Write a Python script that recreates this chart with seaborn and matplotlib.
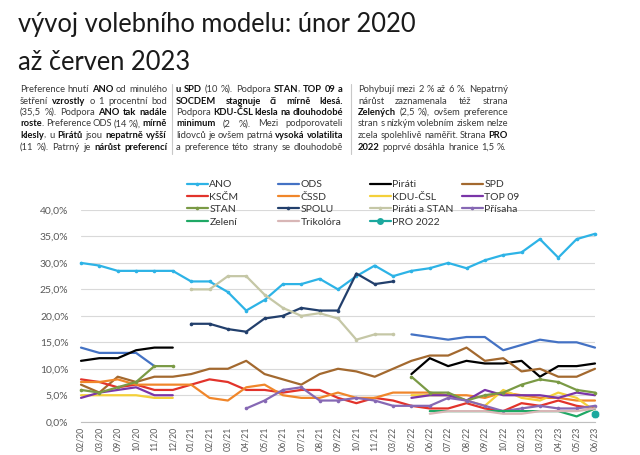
"""
Volební model únor 2020 - červen 2023: nadpis, komentář a spojnicový graf
"""
import numpy as np
import pandas as pd
import matplotlib
matplotlib.use("Agg")
import matplotlib.pyplot as plt
import seaborn as sns
from matplotlib import font_manager
from matplotlib.lines import Line2D

# ---- data -----------------------------------------------------------------
months = ["02/20", "03/20", "09/20", "10/20", "11/20", "12/20", "01/21", "02/21",
          "03/21", "04/21", "05/21", "06/21", "07/21", "08/21", "09/22", "10/21",
          "11/21", "03/22", "05/22", "06/22", "07/22", "08/22", "09/22", "10/22",
          "02/23", "03/23", "04/23", "05/23", "06/23"]

N = None
ano = [30.0, 29.5, 28.5, 28.5, 28.5, 28.5, 26.5, 26.5, 24.5, 21.0, 23.0, 26.0, 26.0, 27.0,
       25.0, 27.5, 29.5, 27.5, 28.5, 29.0, 30.0, 29.0, 30.5, 31.5, 32.0, 34.5, 31.0, 34.5, 35.5]
ods = [14.0, 13.0, 13.0, 13.0, 10.5, N, N, N, N, N, N, N, N, N, N, N, N, N,
       16.5, 16.0, 15.5, 16.0, 16.0, 13.5, 14.5, 15.5, 15.0, 15.0, 14.0]
pirati = [11.5, 12.0, 12.0, 13.5, 14.0, 14.0, N, N, N, N, N, N, N, N, N, N, N, N,
          9.0, 12.0, 10.5, 11.5, 11.0, 11.0, 11.5, 8.5, 10.5, 10.5, 11.0]
spd = [7.0, 5.5, 8.5, 7.5, 8.5, 8.5, 9.0, 10.0, 10.0, 11.5, 9.0, 8.0, 7.0, 9.0, 10.0,
       9.5, 8.5, 10.0, 11.5, 12.5, 12.5, 14.0, 11.5, 12.0, 9.5, 10.0, 8.5, 8.5, 10.0]
kscm = [8.0, 7.5, 6.5, 7.0, 6.0, 6.0, 7.0, 8.0, 7.5, 6.0, 6.0, 5.5, 6.0, 6.0, 4.5,
        3.5, 4.5, 4.0, 3.0, 2.5, 2.5, 3.5, 2.5, 2.0, 3.5, 3.0, 4.0, 3.0, 2.5]
cssd = [7.5, 7.5, 8.0, 7.0, 7.0, 7.0, 7.0, 4.5, 4.0, 6.5, 7.0, 5.0, 4.5, 4.5, 5.5,
        4.5, 4.5, 5.5, 5.5, 5.5, 5.0, 5.0, 4.5, 5.5, 5.0, 4.5, 4.5, 4.0, 4.0]
kdu = [5.0, 5.0, 5.0, 5.0, 4.5, 4.5, N, N, N, N, N, N, N, N, N, N, N, N,
       5.0, 5.0, 5.0, 4.0, 3.0, 6.0, 4.5, 4.0, 5.5, 4.5, 2.0]
top09 = [4.5, 5.5, 6.0, 6.5, 5.0, 5.0, N, N, N, N, N, N, N, N, N, N, N, N,
         4.5, 5.0, 5.0, 4.0, 6.0, 5.0, 5.0, 5.0, 4.5, 5.5, 5.0]
stan = [6.0, 5.5, 6.5, 7.5, 10.5, 10.5, N, N, N, N, N, N, N, N, N, N, N, N,
        8.5, 5.5, 5.5, 4.0, 5.0, 5.5, 7.0, 8.0, 7.5, 6.0, 5.5]
spolu = [N, N, N, N, N, N, 18.5, 18.5, 17.5, 17.0, 19.5, 20.0, 21.5, 21.0, 21.0,
         28.0, 26.0, 26.5, N, N, N, N, N, N, N, N, N, N, N]
pir_stan = [N, N, N, N, N, N, 25.0, 25.0, 27.5, 27.5, 24.0, 21.5, 20.0, 20.5, 19.5,
            15.5, 16.5, 16.5, N, N, N, N, N, N, N, N, N, N, N]
prisaha = [N, N, N, N, N, N, N, N, N, 2.5, 4.0, 6.0, 6.5, 4.0, 4.0, 4.5, 4.0, 3.0,
           3.0, 3.0, 4.5, 4.0, 3.0, 2.0, 2.5, 3.0, 2.5, 2.5, 3.0]
zeleni = [N] * 19 + [2.0, 2.0, 2.0, 2.0, 2.0, 2.0, 2.0, 2.0, 1.0, 2.5]
trikolora = [N] * 19 + [1.5, 2.0, 2.0, 2.0, 1.5, 1.5, 2.0, 2.0, 2.0, 2.5]
pro2022 = [N] * 28 + [1.5]

series = {
    "ANO": ano, "ODS": ods, "Piráti": pirati, "SPD": spd,
    "KSČM": kscm, "ČSSD": cssd, "KDU-ČSL": kdu, "TOP 09": top09,
    "STAN": stan, "SPOLU": spolu, "Piráti a STAN": pir_stan, "Přísaha": prisaha,
    "Zelení": zeleni, "Trikolóra": trikolora, "PRO 2022": pro2022,
}

# ---- styles -----------------------------------------------------------------
colors = {
    "ANO": "#2DB3E6", "ODS": "#4472C4", "Piráti": "#000000", "SPD": "#A3692F",
    "KSČM": "#E2332B", "ČSSD": "#F0862A", "KDU-ČSL": "#F4D03A", "TOP 09": "#7A35A8",
    "STAN": "#7A9A45", "SPOLU": "#223F6C", "Piráti a STAN": "#C5C7A6", "Přísaha": "#8668B4",
    "Zelení": "#1FA865", "Trikolóra": "#D8B6B6", "PRO 2022": "#1BA89E",
}
with_marker = {"ANO", "STAN", "SPOLU", "Piráti a STAN", "Přísaha"}

title_lines = ["vývoj volebního modelu: únor 2020", "až červen 2023"]

col1 = ["Preference hnutí **ANO** od minulého",
        "šetření **vzrostly** o 1 procentní bod",
        "(35,5 %). Podpora **ANO tak nadále**",
        "**roste**. Preference ODS (14 %), **mírně**",
        "**klesly**, u **Pirátů** jsou **nepatrně vyšší**",
        "(11 %). Patrný je **nárůst preferencí**"]
col2 = ["**u SPD** (10 %). Podpora **STAN**, **TOP 09 a**",
        "**SOCDEM stagnuje či mírně klesá.**",
        "Podpora **KDU-ČSL klesla na dlouhodobé**",
        "**minimum** (2 %). Mezi podporovateli",
        "lidovců je ovšem patrná **vysoká volatilita**",
        "a preference této strany se dlouhodobě"]
col3 = ["Pohybují mezi 2 % až 6 %. Nepatrný",
        "nárůst zaznamenala též strana",
        "**Zelených** (2,5 %), ovšem preference",
        "stran s nízkým volebním ziskem nelze",
        "zcela spolehlivě naměřit. Strana **PRO**",
        "**2022** poprvé dosáhla hranice 1,5 %."]


def pick_font(names):
    for name in names:
        try:
            font_manager.findfont(font_manager.FontProperties(family=name),
                                  fallback_to_default=False)
            return name
        except ValueError:
            continue
    return "DejaVu Sans"


sns.set_style("white")
FONT = pick_font(["Liberation Sans Narrow", "Lato", "Open Sans"])
plt.rcParams["font.family"] = [FONT, "DejaVu Sans"]

W, H = 640, 455
fig = plt.figure(figsize=(W / 100, H / 100), dpi=100)
fig.patch.set_facecolor("white")
renderer = fig.canvas.get_renderer()


def fx(px):
    return px / W


def fy(py):
    return 1 - py / H


def text_width(s, fs, bold=False):
    t = fig.text(0, 0, s, fontsize=fs, fontweight="bold" if bold else "normal")
    w = t.get_window_extent(renderer).width
    t.remove()
    return w


# ---- title (sized to the reference width) ----------------------------------
title_fs = 24 * 399 / text_width(title_lines[0], 24)
fig.text(fx(18), fy(32), title_lines[0], fontsize=title_fs, color="#1a1a1a", va="baseline")
fig.text(fx(18), fy(70), title_lines[1], fontsize=title_fs, color="#1a1a1a", va="baseline")


# ---- justified commentary ----------------------------------------------------
def parse_words(line):
    words, cur = [], []
    for k, part in enumerate(line.split("**")):
        bold = k % 2 == 1
        for j, chunk in enumerate(part.split(" ")):
            if j > 0 and cur:
                words.append(cur)
                cur = []
            if chunk:
                cur.append((chunk, bold))
    if cur:
        words.append(cur)
    return words


def natural_width(line, fs, space=0.2):
    words = parse_words(line)
    total = sum(text_width(p, fs, b) for w in words for p, b in w)
    return total + space * fs * 100 / 72 * (len(words) - 1)


columns = [(col1, 20, 167, True), (col2, 176, 343, True), (col3, 358, 508, False)]
fs0 = 7.5
ratio = max(natural_width(l, fs0) / (x1 - x0) for c, x0, x1, _ in columns for l in c)
body_fs = min(fs0 / ratio, 8.0)

for lines, x0, x1, justify_last in columns:
    for i, line in enumerate(lines):
        words = parse_words(line)
        pieces = [[(p, b, text_width(p, body_fs, b)) for p, b in w] for w in words]
        wsum = sum(pw for w in pieces for _, _, pw in w)
        last = i == len(lines) - 1
        if last and not justify_last:
            gap = 0.27 * body_fs * 100 / 72
        else:
            gap = (x1 - x0 - wsum) / max(len(words) - 1, 1)
        x = x0
        y = 92 + i * 11.5
        for w in pieces:
            for p, b, pw in w:
                fig.text(fx(x), fy(y), p, fontsize=body_fs, va="baseline",
                         fontweight="bold" if b else "normal",
                         color="#111111" if b else "#3a3a3a")
                x += pw
            x += gap

for xs in (172, 351):
    fig.add_artist(Line2D([fx(xs), fx(xs)], [fy(84), fy(154)], color="#C8C8C8", lw=0.8))

# ---- chart -------------------------------------------------------------------
ax = fig.add_axes([fx(81), fy(421.7), fx(595) - fx(81), fy(210) - fy(421.7)])
xs_all = np.arange(len(months))

for name, vals in series.items():
    s = pd.Series(vals, index=xs_all, dtype=float)
    valid = s.notna()
    runs = (valid != valid.shift()).cumsum()
    for _, seg in s[valid].groupby(runs[valid]):
        if name == "PRO 2022":
            sns.scatterplot(x=seg.index, y=seg.values, ax=ax, color=colors[name],
                            s=38, edgecolor="white", linewidth=0.4, zorder=5,
                            clip_on=False, legend=False)
            continue
        sns.lineplot(x=seg.index, y=seg.values, ax=ax, color=colors[name], lw=1.6,
                     marker="o" if name in with_marker else None, markersize=2.6,
                     markeredgewidth=0, sort=False, legend=False, clip_on=False)

ax.set_xlim(0, len(months) - 1)
ax.set_ylim(0, 40)
ax.set_yticks(np.arange(0, 40.1, 5))
ax.set_yticklabels([f"{v:.1f}".replace(".", ",") + "%" for v in np.arange(0, 40.1, 5)])
ax.set_xticks(xs_all)
ax.set_xticklabels(months, rotation=90)
ax.set_xlabel("")
ax.set_ylabel("")
ax.grid(axis="y", color="#D9D9D9", lw=0.8)
ax.set_axisbelow(True)
for sp in ("top", "right", "left"):
    ax.spines[sp].set_visible(False)
ax.spines["bottom"].set_color("#BFBFBF")
ax.spines["bottom"].set_linewidth(0.8)
ax.tick_params(axis="y", length=0, pad=9, labelsize=7.5, labelcolor="#595959")
ax.tick_params(axis="x", length=4, width=0.8, color="#BFBFBF", pad=1.5,
               direction="inout", labelsize=6.3, labelcolor="#595959")

# legend: four separate columns placed at the reference positions
names = list(series.keys())
col_x = [187, 278, 370, 462]
for c in range(4):
    handles = []
    for name in names[c::4]:
        if name == "PRO 2022":
            h = Line2D([], [], color=colors[name], lw=1.6, marker="o", markersize=5,
                       markeredgewidth=0)
        else:
            h = Line2D([], [], color=colors[name], lw=1.6,
                       marker="o" if name in with_marker else None, markersize=2.6,
                       markeredgewidth=0)
        handles.append(h)
    leg = fig.legend(handles, names[c::4], loc="upper left",
                     bbox_to_anchor=(fx(col_x[c]), fy(180)), frameon=False,
                     fontsize=7.5, handlelength=2.0, handletextpad=0.15,
                     labelspacing=0.3, borderpad=0, borderaxespad=0)
    for t in leg.get_texts():
        t.set_color("#333333")

fig.savefig("out.png", dpi=100, facecolor="white")
